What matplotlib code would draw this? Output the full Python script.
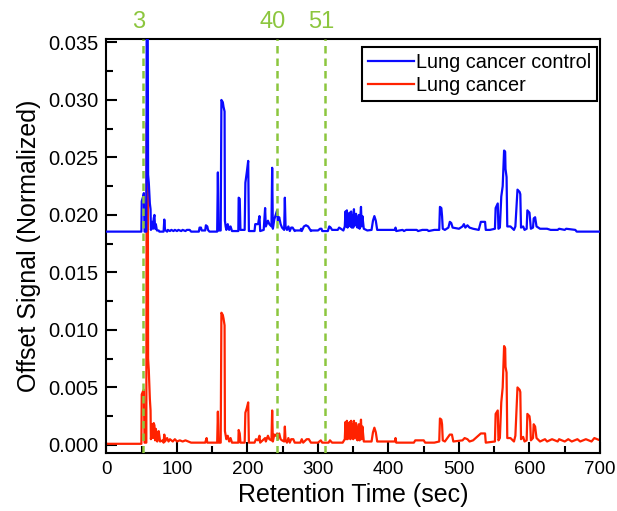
import matplotlib.pyplot as plt
from matplotlib.ticker import MultipleLocator, FormatStrFormatter

plt.rcParams['font.family'] = ['Liberation Sans', 'DejaVu Sans']

# ---- data (retention time in s, signal) ----
blue_t = [0, 49.5, 50, 52, 53, 54, 56.5, 57, 58.5, 59, 60, 61.5, 62.5, 63, 64, 65, 66, 67, 68, 69, 70,
          71.5, 74, 75, 81, 82, 83, 86, 87, 90, 92, 95, 97, 100, 102, 106, 108, 112, 114, 118, 120,
          131, 132, 134, 135, 140, 141, 143, 144, 146, 157, 158, 159, 162, 163, 165, 166, 167.5, 168,
          169, 170, 172, 174, 176, 178, 187, 187.5, 189, 190, 196, 197, 199, 201, 202, 210, 211, 215,
          217, 218, 223, 225, 226, 229, 231, 234, 235, 236, 238, 240, 242, 243, 245, 247, 249, 252,
          253, 254, 256, 258, 260, 262, 264, 267, 268, 275, 276, 277, 280, 283, 286, 290, 291, 300,
          303, 305, 306, 314, 316, 318, 320, 328, 330, 336, 338, 339, 340, 341, 342, 343, 344, 345,
          346, 347, 348, 349, 350, 351, 352, 353, 354, 355, 356, 357, 358, 359, 361, 362, 363, 365,
          370, 376, 378, 380, 382, 384, 409, 410, 411, 420, 422, 425, 440, 442, 448, 455, 457, 465,
          472, 473, 475, 476, 477, 480, 485, 487, 489, 491, 500, 505, 507, 509, 512, 515, 520, 528,
          531, 537, 538, 544, 551, 552, 555, 556, 558, 560, 562, 564, 565.5, 566, 567.5, 568.5, 573,
          578, 580, 583, 586, 587, 588, 591, 593, 596, 597, 600, 601, 602, 605, 606, 608, 610, 615,
          625, 630, 640, 642, 650, 652, 665, 667, 700]
blue_v = [0.01855, 0.01855, 0.0212, 0.0216, 0.0219, 0.01855, 0.01855, 0.0360, 0.0360, 0.0235, 0.0228,
          0.0210, 0.0205, 0.0187, 0.0190, 0.0194, 0.0188, 0.0197, 0.0200, 0.0188, 0.0192,
          0.01865, 0.01865, 0.01855, 0.01855, 0.0196, 0.0187, 0.01855, 0.0187, 0.0186, 0.0187, 0.0186,
          0.0187, 0.0186, 0.0187, 0.0186, 0.0187, 0.0186, 0.0187, 0.0187, 0.01855,
          0.01855, 0.0189, 0.0189, 0.01865, 0.01865, 0.0191, 0.0190, 0.0187, 0.01855, 0.01855, 0.0237,
          0.01865, 0.01865, 0.0300, 0.0298, 0.0294, 0.0290, 0.0195,
          0.0190, 0.0187, 0.0192, 0.0187, 0.0190, 0.0186, 0.0186, 0.0215, 0.0214, 0.0187, 0.0187,
          0.0228, 0.0237, 0.0247, 0.0186, 0.0186, 0.0192, 0.0192,
          0.0199, 0.0186, 0.0187, 0.0206, 0.0190, 0.0195, 0.0192, 0.0190, 0.0241, 0.0188, 0.0196,
          0.0200, 0.0204, 0.0195, 0.0198, 0.0192, 0.0189, 0.0187,
          0.0215, 0.0190, 0.0187, 0.0190, 0.0186, 0.0189, 0.0189, 0.0186, 0.01865, 0.01865, 0.0188,
          0.0186, 0.0190, 0.0191, 0.0190, 0.0186, 0.01865, 0.01865,
          0.0188, 0.0188, 0.0186, 0.0186, 0.0190, 0.0189, 0.0187, 0.0187, 0.0189, 0.01865, 0.0190,
          0.0203, 0.0190, 0.0204, 0.0189, 0.0201, 0.0191, 0.0202,
          0.0190, 0.0203, 0.0189, 0.0200, 0.0189, 0.0205, 0.0191, 0.0198, 0.0201, 0.0190, 0.0189,
          0.0196, 0.0200, 0.0188, 0.0207, 0.0190, 0.0199, 0.0188,
          0.01865, 0.0187, 0.0195, 0.0199, 0.0195, 0.0187, 0.0187, 0.0189, 0.0186, 0.0187, 0.0186,
          0.0187, 0.0187, 0.0186, 0.0187, 0.0187, 0.0186, 0.0187,
          0.0187, 0.0207, 0.0206, 0.0199, 0.0188, 0.0187, 0.0189, 0.0194, 0.0193, 0.0189, 0.0188,
          0.0190, 0.0192, 0.0189, 0.0191, 0.0189, 0.0188, 0.0187,
          0.0194, 0.0194, 0.0187, 0.0187, 0.0188, 0.0206, 0.0210, 0.0188, 0.0189, 0.0216, 0.0225,
          0.0256, 0.0255, 0.0240, 0.0233, 0.0190, 0.0190,
          0.0187, 0.0190, 0.0222, 0.0220, 0.0218, 0.0189, 0.0190, 0.0187, 0.0188, 0.0204, 0.0202,
          0.0195, 0.0188, 0.0189, 0.0197, 0.0198, 0.0190, 0.0188,
          0.0188, 0.0187, 0.0187, 0.0188, 0.0187, 0.0188, 0.0187, 0.01855, 0.01855]

red_t = [0, 49.5, 50, 52, 53, 54, 56.5, 57, 58.5, 59, 60, 61.5, 62.5, 63, 64, 65, 66, 67, 68, 69, 70,
         71, 72, 74, 75, 76, 80, 81, 82, 83, 86, 88, 90, 94, 97, 100, 104, 108, 112, 116, 120, 140,
         142, 143, 157, 158, 159, 162, 163, 165, 166, 167.5, 168, 170, 172, 174, 176, 178, 187,
         187.5, 189, 190, 196, 197, 199, 201, 202, 210, 212, 215, 217, 218, 225, 226, 229, 231, 234,
         235, 236, 238, 240, 242, 243, 245, 247, 249, 252, 253, 254, 256, 258, 260, 262, 265, 267,
         275, 277, 279, 284, 287, 290, 300, 304, 306, 315, 317, 320, 335, 338, 339, 340, 341, 342,
         343, 344, 345, 346, 347, 348, 349, 350, 351, 352, 353, 354, 355, 356, 357, 358, 359, 361,
         362, 363, 365, 376, 378, 380, 382, 384, 409, 410, 411, 436, 438, 450, 452, 465, 472, 473,
         475, 476, 477, 480, 487, 490, 492, 505, 508, 512, 515, 520, 531, 537, 538, 551, 552, 555,
         556, 558, 560, 562, 564, 565.5, 566, 567.5, 568.5, 573, 578, 580, 583, 586, 587, 588, 591,
         593, 596, 597, 600, 601, 602, 605, 606, 608, 610, 615, 622, 625, 632, 640, 642, 650, 655,
         660, 668, 672, 680, 688, 692, 700]
red_v = [0.0001, 0.0001, 0.0044, 0.0047, 0.0048, 0.0002, 0.0002, 0.0280, 0.0280, 0.0075, 0.0065,
         0.0040, 0.0030, 0.0005, 0.0012, 0.0018, 0.0006, 0.0019, 0.0017, 0.0004, 0.0014,
         0.0009, 0.0003, 0.0012, 0.0008, 0.0003, 0.0004, 0.0002, 0.0009, 0.0003, 0.0006, 0.0003,
         0.0005, 0.0003, 0.0005, 0.0003, 0.0004, 0.0003, 0.0004, 0.0003, 0.0002, 0.0002,
         0.0006, 0.0002, 0.0002, 0.0029, 0.0002, 0.0002, 0.0115, 0.0113, 0.0110, 0.0104, 0.0012,
         0.0005, 0.0008, 0.0003, 0.0006, 0.0002, 0.0002,
         0.0013, 0.0010, 0.0002, 0.0002, 0.0028, 0.0032, 0.0037, 0.0002, 0.0002, 0.0005, 0.0004,
         0.0008, 0.0002, 0.0006, 0.0003, 0.0008, 0.0005, 0.0004,
         0.0030, 0.0003, 0.0009, 0.0008, 0.0010, 0.0005, 0.0010, 0.0005, 0.0004, 0.0003, 0.0016,
         0.0004, 0.0002, 0.0006, 0.0002, 0.0005, 0.0005, 0.0002,
         0.0002, 0.0005, 0.0002, 0.0005, 0.0005, 0.0002, 0.0002, 0.0004, 0.0002, 0.0002, 0.0004,
         0.0002, 0.0002, 0.0005, 0.0020, 0.0005, 0.0021, 0.0005,
         0.0019, 0.0006, 0.0020, 0.0005, 0.0021, 0.0006, 0.0018, 0.0005, 0.0021, 0.0006, 0.0017,
         0.0019, 0.0005, 0.0004, 0.0013, 0.0018, 0.0004, 0.0022,
         0.0005, 0.0016, 0.0003, 0.0003, 0.0011, 0.0015, 0.0011, 0.0003, 0.0003, 0.0006, 0.0002,
         0.0002, 0.0004, 0.0004, 0.0002, 0.0002, 0.0003, 0.0023,
         0.0022, 0.0018, 0.0004, 0.0003, 0.0009, 0.0009, 0.0003, 0.0004, 0.0006, 0.0005, 0.0003,
         0.0004, 0.0010, 0.0010, 0.0002, 0.0003, 0.0027, 0.0030,
         0.0004, 0.0006, 0.0037, 0.0050, 0.0086, 0.0084, 0.0068, 0.0063, 0.0006, 0.0006, 0.0003,
         0.0008, 0.0050, 0.0048, 0.0046, 0.0005, 0.0007,
         0.0003, 0.0004, 0.0027, 0.0025, 0.0020, 0.0004, 0.0006, 0.0018, 0.0016, 0.0006, 0.0003,
         0.0005, 0.0003, 0.0005, 0.0003, 0.0005, 0.0003, 0.0005,
         0.0003, 0.0005, 0.0003, 0.0005, 0.0003, 0.0006, 0.0004]

marker_times = [51.5, 241.5, 310.5]
marker_labels = ['3', '40', '51']

green = '#8CC63E'

fig = plt.figure(figsize=(6.17, 5.11), dpi=100)
ax = fig.add_axes([0.1726, 0.1135, 0.7998, 0.8102])

ax.plot(red_t, red_v, color='#FF2200', linewidth=1.6, label='Lung cancer', zorder=2)
ax.plot(blue_t, blue_v, color='#0A0AFF', linewidth=1.6, label='Lung cancer control', zorder=3)

for t, lab in zip(marker_times, marker_labels):
    ax.axvline(t, color=green, linestyle=(0, (3, 2)), linewidth=1.8, zorder=4)
    ax.annotate(lab, xy=(t, 1.0), xycoords=('data', 'axes fraction'),
                xytext=(-3, 4), textcoords='offset points',
                ha='center', va='bottom', color=green, fontsize=17)

ax.set_xlim(0, 700)
ax.set_ylim(-0.0007, 0.0353)
ax.xaxis.set_major_locator(MultipleLocator(100))
ax.xaxis.set_minor_locator(MultipleLocator(50))
ax.yaxis.set_major_locator(MultipleLocator(0.005))
ax.yaxis.set_minor_locator(MultipleLocator(0.0025))
ax.yaxis.set_major_formatter(FormatStrFormatter('%.3f'))

ax.tick_params(which='both', direction='in', top=False, right=False, width=1.5, pad=6)
ax.tick_params(axis='x', labelsize=13.5)
ax.tick_params(axis='y', labelsize=14.5)
ax.tick_params(which='major', length=8)
ax.tick_params(which='minor', length=5)
for s in ax.spines.values():
    s.set_linewidth(1.5)

ax.set_xlabel('Retention Time (sec)', fontsize=18, labelpad=3)
ax.set_ylabel('Offset Signal (Normalized)', fontsize=18, labelpad=5)

handles, labels = ax.get_legend_handles_labels()
leg = ax.legend(handles[::-1], labels[::-1], loc='upper right', bbox_to_anchor=(0.994, 0.981),
                borderaxespad=0, fontsize=14.3, handlelength=2.3, handletextpad=0.1,
                labelspacing=0.2, borderpad=0.3, fancybox=False, framealpha=1)
leg.get_frame().set_edgecolor('black')
leg.get_frame().set_linewidth(1.5)

fig.savefig('out.png', dpi=100)
